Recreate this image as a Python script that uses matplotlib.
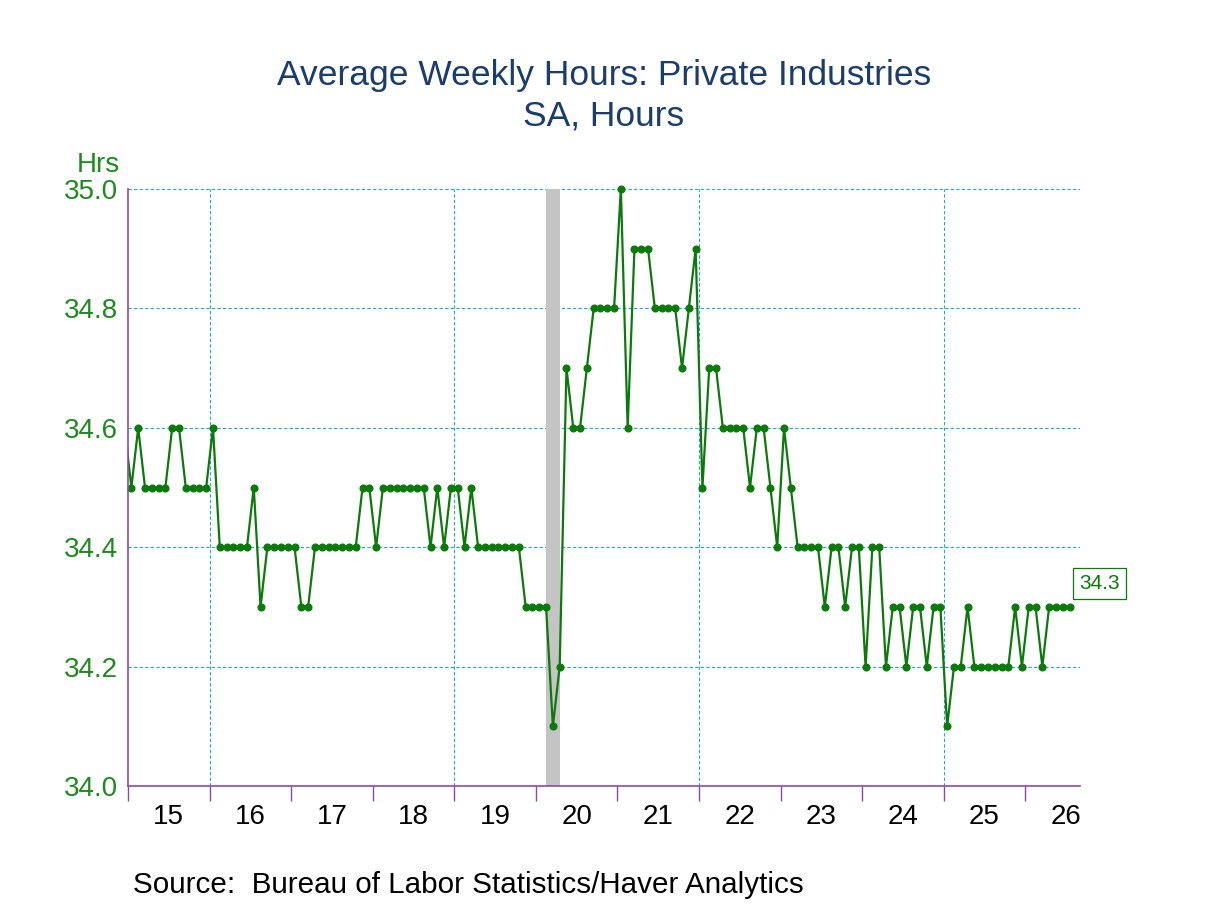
#!/usr/bin/env python3
"""Average Weekly Hours: Private Industries (SA, Hours), monthly, 2015-2026."""

import pandas as pd
import matplotlib

matplotlib.use("Agg")
import matplotlib.pyplot as plt
from matplotlib.ticker import FixedLocator, FuncFormatter

OUTPUT_PNG = "out.png"

# monthly values; first value is Dec 2014 (clipped at the left edge)
DEC_2014 = [34.6]
Y2015 = [34.5, 34.6, 34.5, 34.5, 34.5, 34.5, 34.6, 34.6, 34.5, 34.5, 34.5, 34.5]
Y2016 = [34.6, 34.4, 34.4, 34.4, 34.4, 34.4, 34.5, 34.3, 34.4, 34.4, 34.4, 34.4]
Y2017 = [34.4, 34.3, 34.3, 34.4, 34.4, 34.4, 34.4, 34.4, 34.4, 34.4, 34.5, 34.5]
Y2018 = [34.4, 34.5, 34.5, 34.5, 34.5, 34.5, 34.5, 34.5, 34.4, 34.5, 34.4, 34.5]
Y2019 = [34.5, 34.4, 34.5, 34.4, 34.4, 34.4, 34.4, 34.4, 34.4, 34.4, 34.3, 34.3]
Y2020 = [34.3, 34.3, 34.1, 34.2, 34.7, 34.6, 34.6, 34.7, 34.8, 34.8, 34.8, 34.8]
Y2021 = [35.0, 34.6, 34.9, 34.9, 34.9, 34.8, 34.8, 34.8, 34.8, 34.7, 34.8, 34.9]
Y2022 = [34.5, 34.7, 34.7, 34.6, 34.6, 34.6, 34.6, 34.5, 34.6, 34.6, 34.5, 34.4]
Y2023 = [34.6, 34.5, 34.4, 34.4, 34.4, 34.4, 34.3, 34.4, 34.4, 34.3, 34.4, 34.4]
Y2024 = [34.2, 34.4, 34.4, 34.2, 34.3, 34.3, 34.2, 34.3, 34.3, 34.2, 34.3, 34.3]
Y2025 = [34.1, 34.2, 34.2, 34.3, 34.2, 34.2, 34.2, 34.2, 34.2, 34.2, 34.3, 34.2]
Y2026 = [34.3, 34.3, 34.2, 34.3, 34.3, 34.3, 34.3]

START_MONTH = "2014-12"
RECESSION = ("2020-02", "2020-04")  # shaded from mid-Feb to mid-Apr
YEAR_TICKS = list(range(2015, 2027))
YEAR_LABELS = [f"{y % 100:02d}" for y in YEAR_TICKS]
GRID_YEARS = [2016, 2019, 2022, 2025]
Y_TICKS = [34.0, 34.2, 34.4, 34.6, 34.8, 35.0]
X_MIN, X_MAX = 2015, 2026.67

TITLE = "Average Weekly Hours: Private Industries"
SUBTITLE = "SA, Hours"
SOURCE = "Source:  Bureau of Labor Statistics/Haver Analytics"

LINE_COLOR = "#0b7a0b"
LABEL_GREEN = "#1f8a1f"
TITLE_COLOR = "#1b3d6e"
AXIS_COLOR = "#8a4aa8"
GRID_COLOR = "#22aac8"
SHADE_COLOR = "#c4c4c4"


def month_center(period: pd.Period) -> float:
    return period.year + (period.month - 0.5) / 12


def main() -> None:
    values = DEC_2014 + Y2015 + Y2016 + Y2017 + Y2018 + Y2019 + Y2020 + Y2021 \
        + Y2022 + Y2023 + Y2024 + Y2025 + Y2026
    months = pd.period_range(START_MONTH, periods=len(values), freq="M")
    x = [month_center(p) for p in months]

    plt.rcParams["font.family"] = ["Liberation Sans", "DejaVu Sans"]

    fig = plt.figure(figsize=(12.08, 9.06), dpi=100)
    W, H = 1208, 906
    left, right, top, bottom = 128, 1080, 189, 786
    ax = fig.add_axes([left / W, 1 - bottom / H, (right - left) / W, (bottom - top) / H])

    # recession shading
    r0 = month_center(pd.Period(RECESSION[0], freq="M"))
    r1 = month_center(pd.Period(RECESSION[1], freq="M"))
    ax.axvspan(r0, r1, color=SHADE_COLOR, lw=0, zorder=1)

    # dashed grid
    for yv in Y_TICKS[1:]:
        ax.axhline(yv, color=GRID_COLOR, lw=0.8, ls=(0, (3, 2)), zorder=0.5)
    for gy in GRID_YEARS:
        ax.axvline(gy, color=GRID_COLOR, lw=0.8, ls=(0, (3, 2)), zorder=0.5)

    # line is clipped at the left edge; markers inside the range drawn unclipped
    ax.plot(x, values, color=LINE_COLOR, lw=1.6, zorder=3)
    inside = [(xi, vi) for xi, vi in zip(x, values) if xi >= X_MIN]
    ax.plot([p[0] for p in inside], [p[1] for p in inside], ls="none", marker="o",
            ms=4.8, color=LINE_COLOR, zorder=3, clip_on=False)

    ax.set_xlim(X_MIN, X_MAX)
    ax.set_ylim(34.0, 35.0)

    ax.xaxis.set_major_locator(FixedLocator(YEAR_TICKS))
    ax.xaxis.set_major_formatter(FuncFormatter(lambda v, p: ""))
    ax.xaxis.set_minor_locator(FixedLocator([y + 0.5 for y in YEAR_TICKS]))
    ax.xaxis.set_minor_formatter(FuncFormatter(lambda v, p: YEAR_LABELS[p] if p < len(YEAR_LABELS) else ""))
    ax.tick_params(axis="x", which="major", length=11, width=1, color=AXIS_COLOR, direction="out")
    ax.tick_params(axis="x", which="minor", length=0, pad=13, labelsize=20, labelcolor="black")

    ax.set_yticks(Y_TICKS)
    ax.yaxis.set_major_formatter(FuncFormatter(lambda v, p: f"{v:.1f}"))
    ax.tick_params(axis="y", length=0, pad=7, labelsize=20, labelcolor=LABEL_GREEN)

    for side in ("top", "right"):
        ax.spines[side].set_visible(False)
    for side in ("left", "bottom"):
        ax.spines[side].set_color(AXIS_COLOR)
        ax.spines[side].set_linewidth(1.2)
        ax.spines[side].set_zorder(4)

    ax.annotate("Hrs", xy=(0, 1), xycoords="axes fraction", xytext=(-8, 17),
                textcoords="offset pixels", ha="right", va="baseline",
                fontsize=20, color=LABEL_GREEN)

    # last value callout
    ax.annotate(f"{values[-1]:.1f}", xy=(x[-1], values[-1]), xytext=(10, 14),
                textcoords="offset pixels", ha="left", va="bottom",
                fontsize=15, color=LINE_COLOR,
                bbox=dict(boxstyle="square,pad=0.3", fc="white", ec=LINE_COLOR, lw=0.9),
                annotation_clip=False, zorder=5)

    fig.text(0.5, 1 - 85 / H, TITLE, ha="center", va="baseline", fontsize=25.5, color=TITLE_COLOR)
    fig.text(0.5, 1 - 126 / H, SUBTITLE, ha="center", va="baseline", fontsize=25.5, color=TITLE_COLOR)
    fig.text(133 / W, 1 - 893 / H, SOURCE, ha="left", va="baseline", fontsize=21.3, color="black")

    fig.savefig(OUTPUT_PNG, dpi=100, facecolor="white")
    plt.close(fig)


if __name__ == "__main__":
    main()
